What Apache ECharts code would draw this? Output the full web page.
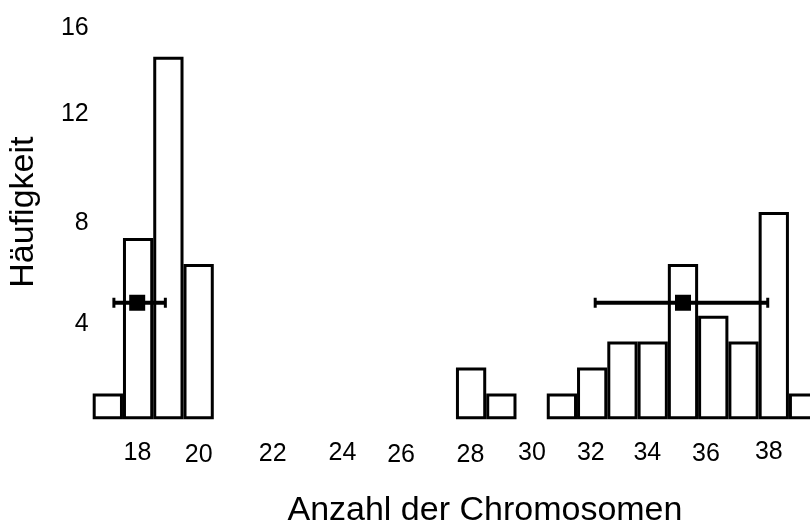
<!DOCTYPE html>
<html><head><meta charset="utf-8">
<script src="https://cdn.jsdelivr.net/npm/echarts@6/dist/echarts.min.js"></script>
<style>html,body{margin:0;padding:0;background:#fff}#c{width:810px;height:525px}</style>
</head><body><div id="c"></div>
<script>
// ---- data ----
const categories = ['17','18','19','20','','21','22','23','24','25','26','27','28','29','30','31','32','33','34','35','36','37','38','39'];
const counts = [1,7,14,6,null,null,null,null,null,null,null,null,2,1,null,1,2,3,3,6,4,3,8,1];
const xTickLabels = ['18','20','22','24','26','28','30','32','34','36','38'];
const yTickValues = [4,8,12,16];
const groupMeans = [17.97, 35.0];
const groupLow = [17.2, 32.1];
const groupHigh = [18.9, 37.8];
const groupY = [4.5, 4.5];

// ---- styling (label nudges, px) ----
const FONT = 'Liberation Sans, Arial, Helvetica, sans-serif';
const TICK_FS = 25;
const xLabelNudge = {'18':[-0.6,1],'20':[0,3],'22':[-16.7,2],'24':[-7.5,1],'26':[-9.5,3],'28':[-0.7,3],'30':[0.4,1],'32':[-1.3,1],'34':[-5.4,1],'36':[-7.3,2],'38':[-5,0]};
const yLabelNudge = {4:8, 8:11, 12:6, 16:23};

// map a chromosome number onto the broken category axis (slot coordinates)
function slotOf(v){
  const base = Math.floor(v);
  return categories.indexOf(String(base)) + (v - base);
}

const xRich = {};
Object.keys(xLabelNudge).forEach(k => {
  const [dx, dy] = xLabelNudge[k];
  xRich['x' + k] = {fontSize: TICK_FS, fontFamily: FONT, color: '#000',
    padding: [dy, dx < 0 ? -2*dx : 0, 0, dx > 0 ? 2*dx : 0]};
});
const yRich = {};
Object.keys(yLabelNudge).forEach(k => {
  yRich['y' + k] = {fontSize: TICK_FS, fontFamily: FONT, color: '#000',
    padding: [2*yLabelNudge[k], 0, 0, 0]};
});

const errData = groupMeans.map((m, i) => [slotOf(groupLow[i]), slotOf(groupHigh[i]), groupY[i]]);
const meanData = groupMeans.map((m, i) => [slotOf(m), groupY[i]]);

const chart = echarts.init(document.getElementById('c'));
chart.setOption({
  animation: false,
  backgroundColor: '#fff',
  grid: {left: 92.7, right: -9.2, top: 4.9, bottom: 105.7, containLabel: false, outerBoundsMode: 'none'},
  xAxis: [{
    type: 'category', data: categories,
    axisLine: {show: false}, axisTick: {show: false}, splitLine: {show: false},
    axisLabel: {interval: 0, margin: 20, fontSize: TICK_FS, fontFamily: FONT, color: '#000',
      formatter: v => xTickLabels.includes(v) ? '{x' + v + '|' + v + '}' : '', rich: xRich},
    name: 'Anzahl der Chromosomen', nameLocation: 'middle', nameGap: 74,
    nameTextStyle: {fontSize: 34, fontFamily: FONT, color: '#000', padding: [0, 0, 0, 58]}
  }, {
    type: 'value', min: -0.5, max: categories.length - 0.5, show: false
  }],
  yAxis: {
    type: 'value', min: 0, max: 16, interval: 4,
    axisLine: {show: false}, axisTick: {show: false}, splitLine: {show: false},
    axisLabel: {margin: 4, fontSize: TICK_FS, fontFamily: FONT, color: '#000',
      formatter: v => yTickValues.includes(v) ? '{y' + v + '|' + v + '}' : '', rich: yRich},
    name: 'Häufigkeit', nameLocation: 'middle', nameGap: 52, nameRotate: 90,
    nameTextStyle: {fontSize: 34, fontFamily: FONT, color: '#000'}
  },
  series: [{
    type: 'bar', data: counts, barCategoryGap: '0%', xAxisIndex: 0, z: 2,
    itemStyle: {color: '#fff', borderColor: '#000', borderWidth: 3},
    emphasis: {disabled: true}
  }, {
    type: 'custom', xAxisIndex: 1, yAxisIndex: 0, data: errData, z: 5,
    encode: {x: [0, 1], y: 2},
    renderItem: (params, api) => {
      const y = api.value(2);
      const p1 = api.coord([api.value(0), y]);
      const p2 = api.coord([api.value(1), y]);
      const h = 5;
      return {type: 'group', children: [
        {type: 'line', shape: {x1: p1[0], y1: p1[1], x2: p2[0], y2: p2[1]}, style: {stroke: '#000', lineWidth: 4}},
        {type: 'line', shape: {x1: p1[0], y1: p1[1]-h, x2: p1[0], y2: p1[1]+h}, style: {stroke: '#000', lineWidth: 3}},
        {type: 'line', shape: {x1: p2[0], y1: p2[1]-h, x2: p2[0], y2: p2[1]+h}, style: {stroke: '#000', lineWidth: 3}}
      ]};
    }
  }, {
    type: 'scatter', xAxisIndex: 1, yAxisIndex: 0, data: meanData, z: 6,
    symbol: 'rect', symbolSize: 16, itemStyle: {color: '#000', opacity: 1},
    emphasis: {disabled: true}
  }]
});
</script></body></html>
